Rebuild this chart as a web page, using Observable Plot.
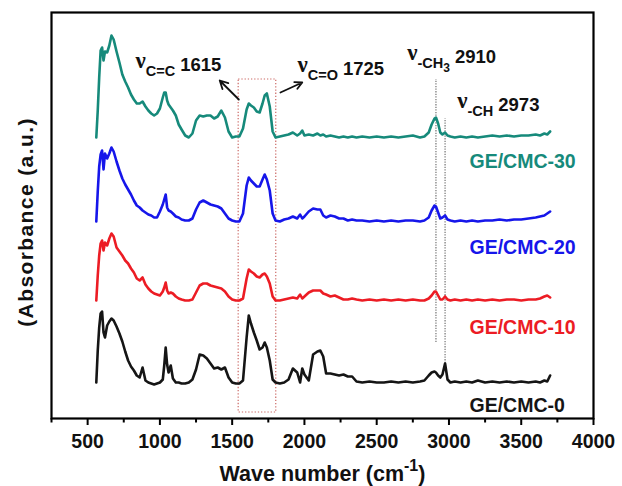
<!DOCTYPE html>
<html><head><meta charset="utf-8">
<script src="https://cdn.jsdelivr.net/npm/d3@7"></script>
<script src="https://cdn.jsdelivr.net/npm/@observablehq/plot@0.6"></script>
<style>
html,body{margin:0;padding:0;background:#fff;}
#chart svg{display:block;}
</style></head><body><div id="chart"></div>
<script>
// Wavenumber grid (cm-1)
const wavenumbers = [
  560, 570, 580, 590, 600, 610, 620, 635, 650, 665,
  680, 700, 720, 740, 760, 780, 800, 820, 840, 860,
  880, 900, 920, 940, 960, 980, 1000, 1020, 1030, 1040,
  1050, 1060, 1075, 1090, 1110, 1130, 1150, 1175, 1200, 1225,
  1250, 1275, 1300, 1325, 1350, 1375, 1400, 1425, 1450, 1475,
  1500, 1525, 1550, 1575, 1600, 1615, 1630, 1650, 1670, 1690,
  1710, 1725, 1740, 1760, 1780, 1800, 1830, 1860, 1890, 1920,
  1950, 1970, 1985, 2000, 2030, 2060, 2090, 2110, 2130, 2150,
  2180, 2210, 2240, 2270, 2300, 2330, 2360, 2400, 2450, 2500,
  2550, 2600, 2650, 2700, 2750, 2800, 2830, 2860, 2880, 2900,
  2910, 2925, 2940, 2955, 2973, 2990, 3010, 3040, 3080, 3120,
  3160, 3200, 3250, 3300, 3350, 3400, 3450, 3500, 3550, 3600,
  3630, 3660, 3680, 3700
];
// Relative absorbance (a.u.) of each sample
const absGE0 = [
  0, 32, 55, 69, 71, 50, 45, 57, 61, 64,
  62, 56, 49, 41, 31, 22, 16, 12, 7, 5,
  15, 2, 0, -1, -2, -1, 0, 3, 17, 35,
  18, 10, 17, 4, 0, 0, -1, -1, 0, 3,
  13, 28, 27, 24, 19, 14, 15, 13, 15, 5,
  0, -1, -1, 2, 45, 67, 59, 50, 42, 33,
  35, 40, 35, 22, 3, 0, -1, 0, 3, 14,
  10, 0, 14, 8, 2, 28, 31, 32, 26, 9,
  9, 8, 7, 8, 6, 6, 1, 0, 1, 0,
  0, 1, 0, 1, 0, 1, 2, 7, 10, 11,
  10, 7, 5, 8, 19, 3, 0, 1, 0, 1,
  0, 2, 0, 1, 0, 1, 0, 1, 0, 1,
  0, 2, 1, 7
];
const absGE10 = [
  0, 25, 45, 57, 60, 50, 58, 55, 62, 67,
  64, 53, 49, 45, 40, 37, 32, 28, 22, 20,
  23, 16, 12, 9, 7, 6, 5, 9, 13, 18,
  10, 7, 8, 7, 4, 2, 1, 0, 0, 1,
  8, 15, 17, 17, 15, 14, 13, 12, 9, 4,
  1, 0, 0, 2, 22, 31, 29, 27, 24, 23,
  26, 27, 24, 17, 4, 0, 0, 1, 2, 3,
  2, 6, 2, 4, 8, 10, 10, 10, 7, 6,
  4, 5, 3, 1, 1, 2, 1, 0, 1, 0,
  1, 0, 1, 0, 1, 0, 0, 2, 5, 9,
  9, 5, 1, 1, 4, 1, 0, 1, 0, 1,
  0, 1, 0, 1, 0, 1, 1, 0, 1, 1,
  2, 4, 5, 3
];
const absGE20 = [
  0, 30, 55, 67, 71, 52, 68, 63, 68, 74,
  70, 60, 51, 43, 37, 32, 27, 21, 16, 14,
  11, 9, 7, 6, 4, 4, 10, 17, 22, 27,
  14, 11, 10, 8, 5, 4, 2, 1, 1, 3,
  12, 19, 21, 19, 17, 16, 15, 13, 8, 3,
  1, 0, 0, 8, 36, 44, 41, 38, 35, 35,
  42, 47, 42, 31, 8, 1, 0, 2, 3, 5,
  3, 7, 3, 5, 10, 13, 12, 12, 6, 4,
  6, 5, 3, 3, 1, 2, 1, 1, 0, 1,
  0, 1, 0, 1, 1, 0, 1, 4, 11, 16,
  15, 9, 3, 4, 6, 2, 1, 0, 1, 0,
  1, 0, 1, 1, 2, 1, 2, 2, 3, 4,
  5, 6, 8, 10
];
const absGE30 = [
  0, 27, 60, 87, 90, 77, 86, 85, 92, 102,
  98, 86, 75, 63, 56, 50, 43, 38, 34, 34,
  36, 31, 27, 24, 22, 24, 29, 40, 45, 45,
  37, 33, 30, 27, 22, 13, 8, 2, 0, 4,
  17, 22, 21, 22, 22, 19, 21, 27, 20, 6,
  0, 1, 1, 9, 28, 34, 32, 30, 26, 25,
  34, 42, 44, 31, 6, 0, 1, 2, 3, 5,
  2, 4, 7, 2, 3, 2, 4, 2, 3, 1,
  2, 1, 0, 1, 0, 1, 0, 1, 0, 1,
  0, 1, 0, 1, 2, 0, 1, 5, 13, 19,
  20, 14, 5, 3, 5, 2, 1, 0, 1, 0,
  1, 0, 1, 2, 1, 2, 1, 2, 2, 3,
  2, 4, 3, 6
];
const seriesNames = ["GE/CMC-0", "GE/CMC-10", "GE/CMC-20", "GE/CMC-30"];
const seriesValues = [absGE0, absGE10, absGE20, absGE30];
const seriesOffsets = [36, 118, 197, 281];
const seriesColors = ["#151515", "#ec1c24", "#1616ea", "#168a7b"];
const labelWn = [3142, 3142, 3142, 3142];
const labelLevel = [6.5, 85, 165, 251];

const majorTicks = [500, 1000, 1500, 2000, 2500, 3000, 3500, 4000];
const minorTicks = [250, 750, 1250, 1750, 2250, 2750, 3250, 3750];

// Annotations
const boxWn = [1545, 1805];
const boxLevel = [6, 339];
const peakWn = [2910, 2973];
const peakLow = [76, 55];
const peakHigh = [339, 300];
const arrowFromWn = [1546, 1834];
const arrowFromLevel = [319, 326];
const arrowToWn = [1414, 1985];
const arrowToLevel = [338, 336];
const annoWn = [831, 1952, 2711, 3057];
const annoLevel = [348, 344, 356, 308];
const annoSub = ["C=C", "C=O", "-CH", "-CH"];
const annoSub2 = ["", "", "3", ""];
const annoNum = ["1615", "1725", "2910", "2973"];
const xLabel = "Wave number (cm-1)";
const yLabel = "(Absorbance (a.u.)";

const rows = [];
seriesNames.forEach((name, s) => wavenumbers.forEach((w, i) =>
  rows.push({series: name, wn: w, a: seriesValues[s][i] + seriesOffsets[s]})));
const labelRows = seriesNames.map((name, s) => ({name, x: labelWn[s], y: labelLevel[s], c: seriesColors[s]}));
const annoFull = annoSub.map((s, k) => "ν" + s + annoSub2[k] + " " + annoNum[k]);
const annoRows = annoFull.map((t, k) => ({t, x: annoWn[k], y: annoLevel[k]}));
const boxRows = [{x1: boxWn[0], x2: boxWn[1], y1: boxLevel[0], y2: boxLevel[1]}];
const peakRows = peakWn.map((w, k) => ({x: w, y1: peakLow[k], y2: peakHigh[k]}));
const arrowRows = arrowFromWn.map((w, k) => ({x1: w, y1: arrowFromLevel[k], x2: arrowToWn[k], y2: arrowToLevel[k]}));

const chart = Plot.plot({
  width: 622, height: 486,
  marginLeft: 51, marginRight: 29, marginTop: 12, marginBottom: 68,
  x: {domain: [250, 4000]},
  y: {domain: [0, 406], axis: null},
  color: {domain: seriesNames, range: seriesColors},
  style: {fontFamily: "'Liberation Sans', Arial, sans-serif", fontWeight: "bold", background: "#fff", overflow: "visible"},
  marks: [
    Plot.rect(boxRows, {x1: "x1", x2: "x2", y1: "y1", y2: "y2", fill: "none", stroke: "#cc6a66", strokeWidth: 1.2, strokeDasharray: "1.3,1.9"}),
    Plot.ruleX(peakRows, {x: "x", y1: "y1", y2: "y2", stroke: "#666", strokeWidth: 1.1, strokeDasharray: "1.3,1.3"}),
    Plot.line(rows, {x: "wn", y: "a", z: "series", stroke: "series", strokeWidth: 2.6, strokeLinejoin: "round"}),
    Plot.arrow(arrowRows, {x1: "x1", y1: "y1", x2: "x2", y2: "y2", stroke: "#111", strokeWidth: 1.8, headLength: 9, headAngle: 55}),
    Plot.text(annoRows, {x: "x", y: "y", text: "t", textAnchor: "start", lineAnchor: "bottom", fontSize: 18.5, fill: "#111"}),
    Plot.text(labelRows, {x: "x", y: "y", text: "name", fill: "c", textAnchor: "start", lineAnchor: "bottom", fontSize: 19.5}),
    Plot.text([xLabel], {text: d => d, frameAnchor: "bottom", textAnchor: "middle", lineAnchor: "bottom", dy: 62, fontSize: 21.5, fill: "#111"}),
    Plot.text([yLabel], {text: d => d, frameAnchor: "left", textAnchor: "middle", lineAnchor: "middle", rotate: -90, dx: -25.5, dy: 6.5, fontSize: 21, fill: "#111"}),
    Plot.frame({stroke: "#000", strokeWidth: 2.2}),
    Plot.axisX({ticks: majorTicks, tickSize: 7, tickPadding: 9, tickFormat: d => String(d), fontSize: 19.5, label: null, strokeWidth: 2, fill: "#111"}),
    Plot.axisX({ticks: minorTicks, tickSize: 4.5, tickFormat: () => "", label: null, strokeWidth: 2})
  ]
});
document.getElementById("chart").appendChild(chart);

// Sub/superscripts as real text tspans
d3.select(chart).selectAll("text").each(function () {
  const t = this.textContent;
  const sel = d3.select(this);
  const k = annoFull.indexOf(t);
  if (k >= 0) {
    sel.text(null);
    sel.append("tspan").attr("font-family", "'Liberation Serif','Times New Roman',serif")
      .attr("font-size", 23).attr("dy", -3).text("ν");
    sel.append("tspan").attr("font-size", 14.5).attr("dy", 8).text(annoSub[k]);
    let back = 5;
    if (annoSub2[k]) { sel.append("tspan").attr("font-size", 12).attr("dy", 4).text(annoSub2[k]); back = 9; }
    sel.append("tspan").attr("font-size", 18.5).attr("dy", -back).attr("dx", 5).text(annoNum[k]);
  } else if (t === xLabel) {
    sel.text(null);
    sel.append("tspan").text("Wave number (cm");
    sel.append("tspan").attr("font-size", 16).attr("dy", -10).text("-1");
    sel.append("tspan").attr("dy", 10).text(")");
  } else if (t === yLabel) {
    sel.attr("letter-spacing", "1.4px");
  }
});
</script>
</body></html>
